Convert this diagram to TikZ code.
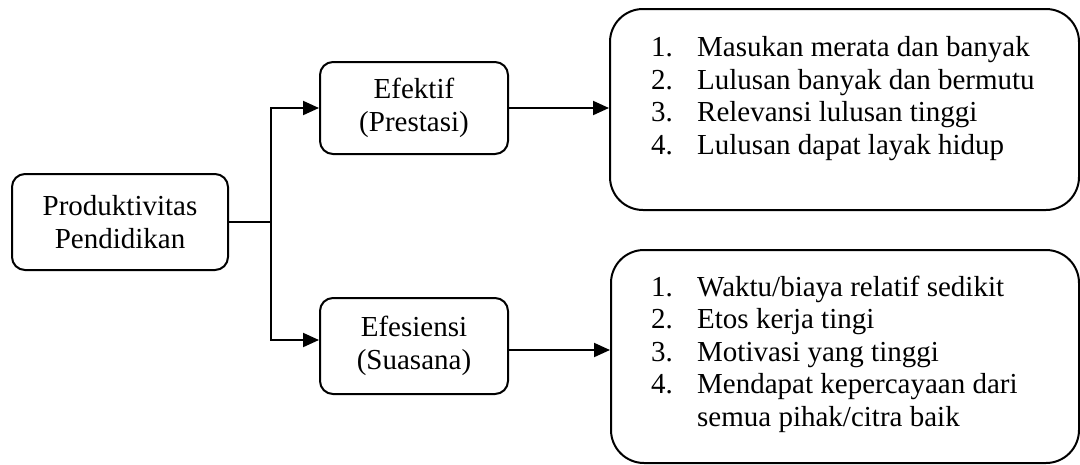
\documentclass[tikz,border=0pt]{standalone}
\usepackage{fontspec}
\setmainfont{Liberation Serif}
\usetikzlibrary{arrows.meta}
\begin{document}
\begin{tikzpicture}[x=1pt,y=-1pt,
  every node/.style={font=\fontsize{29}{32.5}\selectfont},
  box/.style={draw, line width=2pt, rounded corners=13pt, align=center, inner sep=0pt},
  listbox/.style={draw, line width=2pt, rounded corners=33pt, inner sep=0pt},
  listtext/.style={anchor=base west, inner sep=0pt},
  link/.style={line width=2pt},
  arr/.style={line width=2pt, -{Triangle[length=16pt,width=14pt]}}]
\useasboundingbox (0,0) rectangle (1080,464);

% main box and the two aspects
\node[box, minimum width=216pt, minimum height=96pt] (prod) at (120,222)
  {Produktivitas\\Pendidikan};
\node[box, minimum width=188pt, minimum height=92pt] (ef) at (414,108)
  {Efektif\\(Prestasi)};
\node[box, minimum width=188pt, minimum height=96pt] (es) at (414,346)
  {Efesiensi\\(Suasana)};

% result boxes
\node[listbox, minimum width=469pt, minimum height=201pt] (res1) at (844.5,109.5) {};
\node[listbox, minimum width=468pt, minimum height=213pt] (res2) at (845,356.5) {};

\node[listtext] (res1txt) at (651,56.7) {%
  \begin{tabular}[t]{@{}p{46pt}@{}l@{}}
  1. & Masukan merata dan banyak\\
  2. & Lulusan banyak dan bermutu\\
  3. & Relevansi lulusan tinggi\\
  4. & Lulusan dapat layak hidup
  \end{tabular}};
\node[listtext] (res2txt) at (651,296) {%
  \begin{tabular}[t]{@{}p{46pt}@{}l@{}}
  1. & Waktu/biaya relatif sedikit\\
  2. & Etos kerja tingi\\
  3. & Motivasi yang tinggi\\
  4. & Mendapat kepercayaan dari\\
     & semua pihak/citra baik
  \end{tabular}};

% connectors
\coordinate (J) at (271,222);
\draw[link] (prod.east) -- (J);
\draw[arr] (J) |- (ef.west);
\draw[arr] (J) |- ([yshift=6pt]es.west);
\draw[arr] (ef.east) -- (ef.east -| res1.west);
\draw[arr] ([yshift=-4pt]es.east) -- ([yshift=-4pt]es.east -| res2.west);
\end{tikzpicture}
\end{document}
